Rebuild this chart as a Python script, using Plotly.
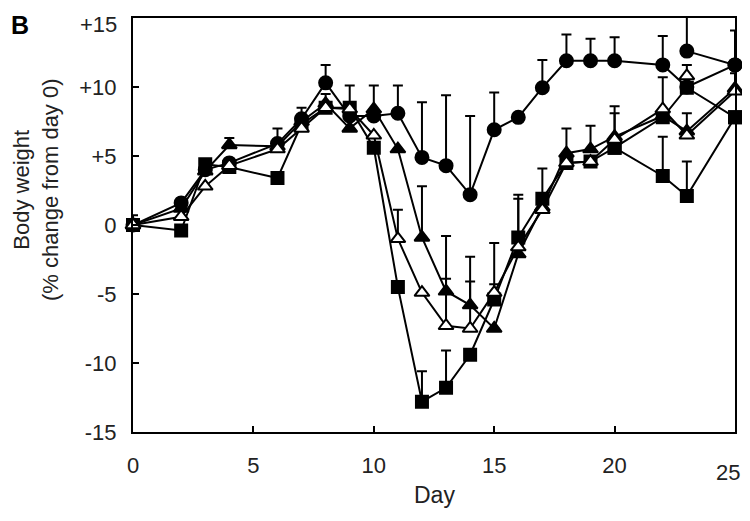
import plotly.graph_objects as go

days = [0, 2, 3, 4, 6, 7, 8, 9, 10, 11, 12, 13, 14, 15, 16, 17, 18, 19, 20, 22, 23, 25]

circle = [0, 1.6, 4.0, 4.5, 5.9, 7.7, 10.3, 7.9, 7.9, 8.1, 4.9, 4.3, 2.2, 6.9, 7.8, 9.95, 11.9, 11.9, 11.9, 11.6, 10.0, 11.6]
circle_sd = [0.7, None, None, None, None, None, 1.3, None, None, 2.0, 4.0, 5.1, 5.7, 2.7, None, 2.0, 1.9, 1.6, 1.7, 2.1, None, 2.5]

filled_tri = [0, 1.2, 3.9, 5.8, 5.7, 7.5, 8.8, 7.0, 8.4, 5.5, -0.9, -4.8, -5.8, -7.5, -2.1, 1.3, 5.2, 5.5, 6.4, 7.9, 6.8, 9.9]
filled_tri_sd = [None, None, None, 0.5, 1.3, 1.0, 0.7, None, 1.7, None, 3.7, 4.0, 3.5, None, 4.0, 1.0, 1.8, 1.7, 1.7, None, None, None]

open_tri = [0, 0.6, 2.8, 4.3, 5.5, 7.0, 8.5, 8.4, 6.5, -1.0, -4.9, -7.3, -7.5, -4.9, -1.6, 1.1, 4.5, 4.6, 6.2, 8.4, 6.5, 9.7]
open_tri_sd = [None, None, None, None, None, None, None, None, None, 2.1, None, 3.4, 3.4, 3.6, None, None, None, None, 2.4, 2.3, 1.6, 1.3]

square = [0, -0.4, 4.4, 4.2, 3.4, 7.3, 8.5, 8.5, 5.6, -4.5, -12.8, -11.8, -9.4, -5.4, -0.9, 1.9, 4.5, 4.6, 5.6, 3.55, 2.1, 7.8]
square_sd = [None, None, None, None, None, None, None, 1.6, None, None, 2.2, 2.7, None, 1.1, 3.1, 2.2, None, None, None, 2.85, 2.5, None]

# late readings
late_sq_days = [20, 22, 23, 25]
late_sq = [5.6, 7.8, 9.95, 7.8]
late_circle_days = [23, 25]
late_circle = [12.6, 11.6]
late_circle_sd = [2.5, None]
late_tri_days = [23]
late_tri = [10.8]
late_tri_sd = [0.8]

y_ticks = [-15, -10, -5, 0, 5, 10, 15]
y_ticktext = ["-15", "-10", "-5", "0", "+5", "+10", ""]
top_label = "+15"
x_ticks = [0, 5, 10, 15, 20, 25]
x_ticktext = ["0", "5", "10", "15", "20", ""]
last_x_label = "25"

BLACK = "#000000"
FONT = "Liberation Sans, Arial, sans-serif"

# page body has an 8px margin; plot area target on screen: x 133..735, y 18..432
W, H = 742, 502
PX0, PX1, PY0, PY1 = 133, 735, 18, 432


def px_x(sx):
    return (sx - PX0) / (PX1 - PX0)


def px_y(sy):
    return (PY1 - sy) / (PY1 - PY0)


def err(sd):
    return dict(type="data", array=sd, arrayminus=[0] * len(sd), symmetric=False,
                color=BLACK, thickness=2, width=5)


def trace(x, y, sd, symbol, size, fill, mode="lines+markers"):
    return go.Scatter(
        x=x, y=y, mode=mode, cliponaxis=False,
        line=dict(color=BLACK, width=2),
        marker=dict(symbol=symbol, size=size, color=fill, line=dict(color=BLACK, width=2)),
        error_y=err(sd) if sd is not None else None,
        showlegend=False,
    )


fig = go.Figure()
fig.add_trace(trace(days, circle, circle_sd, "circle", 13, BLACK))
fig.add_trace(trace(late_circle_days, late_circle, late_circle_sd, "circle", 13, BLACK))
fig.add_trace(trace(days, filled_tri, filled_tri_sd, "triangle-up", 13, BLACK))
fig.add_trace(trace(late_tri_days, late_tri, late_tri_sd, "triangle-up", 13, "white", mode="markers"))
fig.add_trace(trace(days, square, square_sd, "square", 12, BLACK))
fig.add_trace(trace(late_sq_days, late_sq, None, "square", 12, BLACK))
fig.add_trace(trace(days, open_tri, open_tri_sd, "triangle-up", 13, "white"))

axis_common = dict(showline=True, linecolor=BLACK, linewidth=2, mirror=True,
                   ticks="inside", ticklen=6, tickwidth=2, tickcolor=BLACK,
                   showgrid=False, zeroline=False, ticklabeloverflow="allow",
                   automargin=False,
                   tickfont=dict(family=FONT, size=22, color="#222"))

fig.update_layout(
    width=W, height=H,
    margin=dict(l=PX0 - 8, r=W + 8 - PX1, t=PY0 - 8, b=H + 8 - PY1, autoexpand=False),
    plot_bgcolor="white", paper_bgcolor="white",
    xaxis=dict(range=[0, 25], tickvals=x_ticks, ticktext=x_ticktext, ticklabelstandoff=13, **axis_common),
    yaxis=dict(range=[-15, 15], tickvals=y_ticks, ticktext=y_ticktext, ticklabelstandoff=10, **axis_common),
    annotations=[
        dict(text="<b>B</b>", x=px_x(9), y=px_y(9), xref="paper", yref="paper", showarrow=False,
             xanchor="left", yanchor="top", font=dict(family=FONT, size=25, color=BLACK)),
        dict(text=top_label, x=px_x(119), y=px_y(25), xref="paper", yref="paper", showarrow=False,
             xanchor="right", yanchor="middle", font=dict(family=FONT, size=22, color="#222")),
        dict(text=last_x_label, x=px_x(742), y=px_y(472), xref="paper", yref="paper", showarrow=False,
             xanchor="right", yanchor="middle", font=dict(family=FONT, size=22, color="#222")),
        dict(text="Body weight<br>(% change from day 0)", xref="paper", yref="paper",
             x=px_x(36), y=px_y(190), xanchor="center", yanchor="middle", textangle=-90,
             showarrow=False, font=dict(family=FONT, size=22, color="#222")),
        dict(text="Day", xref="paper", yref="paper", x=px_x(434), y=px_y(495),
             xanchor="center", yanchor="middle", showarrow=False,
             font=dict(family=FONT, size=23, color="#222")),
    ],
)

fig.write_html("out.html")
